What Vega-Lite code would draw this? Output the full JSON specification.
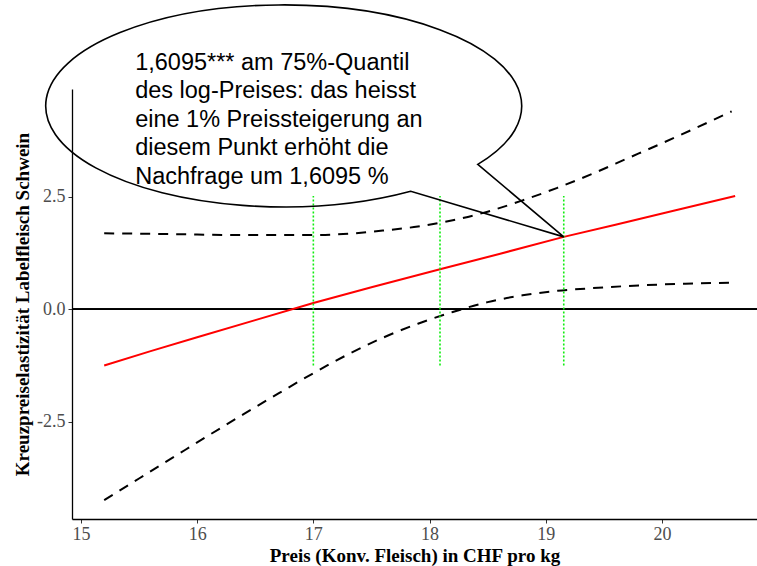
{
  "$schema": "https://vega.github.io/schema/vega-lite/v6.json",
  "width": 685,
  "height": 430,
  "autosize": {"type": "none"},
  "padding": {"left": 72, "top": 89, "right": 0, "bottom": 47},
  "background": "white",
  "config": {
    "view": {"stroke": null},
    "axis": {
      "grid": false,
      "domainColor": "black",
      "domainWidth": 1.3,
      "tickColor": "#333333",
      "tickSize": 4,
      "tickWidth": 1,
      "labelFont": "Liberation Serif",
      "labelFontSize": 18,
      "labelColor": "#4d4d4d",
      "titleFont": "Liberation Serif",
      "titleFontSize": 19,
      "titleFontWeight": "bold",
      "titleColor": "black"
    }
  },
  "datasets": {
    "fit": [
      {"price": 15.2, "elast": -1.25},
      {"price": 15.6, "elast": -0.93},
      {"price": 16.0, "elast": -0.62},
      {"price": 16.5, "elast": -0.24},
      {"price": 17.0, "elast": 0.14},
      {"price": 17.5, "elast": 0.49},
      {"price": 18.09, "elast": 0.89},
      {"price": 18.6, "elast": 1.23},
      {"price": 19.155, "elast": 1.6095},
      {"price": 19.6, "elast": 1.88},
      {"price": 20.1, "elast": 2.19},
      {"price": 20.63, "elast": 2.52}
    ],
    "band": [
      {"bound": "upper", "price": 15.2, "elast": 1.69},
      {"bound": "upper", "price": 15.8, "elast": 1.67},
      {"bound": "upper", "price": 16.4, "elast": 1.65},
      {"bound": "upper", "price": 17.0, "elast": 1.65},
      {"bound": "upper", "price": 17.3, "elast": 1.68},
      {"bound": "upper", "price": 17.6, "elast": 1.75},
      {"bound": "upper", "price": 17.9, "elast": 1.84},
      {"bound": "upper", "price": 18.2, "elast": 1.98},
      {"bound": "upper", "price": 18.5, "elast": 2.17},
      {"bound": "upper", "price": 18.8, "elast": 2.42},
      {"bound": "upper", "price": 19.1, "elast": 2.7},
      {"bound": "upper", "price": 19.4, "elast": 3.01},
      {"bound": "upper", "price": 19.7, "elast": 3.35},
      {"bound": "upper", "price": 20.0, "elast": 3.69},
      {"bound": "upper", "price": 20.3, "elast": 4.04},
      {"bound": "upper", "price": 20.6, "elast": 4.4},
      {"bound": "lower", "price": 15.2, "elast": -4.24},
      {"bound": "lower", "price": 15.5, "elast": -3.76},
      {"bound": "lower", "price": 15.8, "elast": -3.28},
      {"bound": "lower", "price": 16.1, "elast": -2.8},
      {"bound": "lower", "price": 16.4, "elast": -2.33},
      {"bound": "lower", "price": 16.7, "elast": -1.87},
      {"bound": "lower", "price": 17.0, "elast": -1.42},
      {"bound": "lower", "price": 17.3, "elast": -1.0},
      {"bound": "lower", "price": 17.6, "elast": -0.63},
      {"bound": "lower", "price": 17.9, "elast": -0.32},
      {"bound": "lower", "price": 18.2, "elast": -0.06},
      {"bound": "lower", "price": 18.5, "elast": 0.16},
      {"bound": "lower", "price": 18.8, "elast": 0.31},
      {"bound": "lower", "price": 19.1, "elast": 0.41},
      {"bound": "lower", "price": 19.4, "elast": 0.47},
      {"bound": "lower", "price": 19.8, "elast": 0.53},
      {"bound": "lower", "price": 20.2, "elast": 0.57},
      {"bound": "lower", "price": 20.63, "elast": 0.59}
    ],
    "quantiles": [
      {"quantil": "25%", "price": 17.0, "low": -1.25, "high": 2.52},
      {"quantil": "50%", "price": 18.09, "low": -1.25, "high": 2.52},
      {"quantil": "75%", "price": 19.155, "low": -1.25, "high": 2.52}
    ],
    "note": [
      {
        "price": 19.155,
        "elast": 1.6095,
        "label": "1,6095*** am 75%-Quantil\ndes log-Preises: das heisst\neine 1% Preissteigerung an\ndiesem Punkt erhöht die\nNachfrage um 1,6095 %"
      }
    ]
  },
  "encoding": {
    "x": {
      "field": "price",
      "type": "quantitative",
      "scale": {"domain": [14.923, 20.818], "nice": false, "zero": false},
      "axis": {"values": [15, 16, 17, 18, 19, 20], "title": "Preis (Konv. Fleisch) in CHF pro kg", "labelPadding": 2, "titlePadding": 3}
    },
    "y": {
      "field": "elast",
      "type": "quantitative",
      "scale": {"domain": [-4.66, 4.896], "nice": false, "zero": false},
      "axis": {
        "values": [-2.5, 0, 2.5],
        "format": ".1f",
        "labelExpr": "replace(datum.label, '\u2212', '-')",
        "title": "Kreuzpreiselastizität Labelfleisch Schwein",
        "labelPadding": 3,
        "titlePadding": 4
      }
    }
  },
  "layer": [
    {
      "data": {"name": "fit"},
      "mark": {"type": "rule", "color": "black", "strokeWidth": 1.3},
      "encoding": {"x": null, "y": {"datum": 0}}
    },
    {
      "data": {"name": "band"},
      "mark": {"type": "line", "color": "black", "strokeWidth": 2, "strokeDash": [10, 8], "interpolate": "monotone"},
      "encoding": {"detail": {"field": "bound"}}
    },
    {
      "data": {"name": "fit"},
      "mark": {"type": "line", "color": "#ff0000", "strokeWidth": 2}
    },
    {
      "data": {"name": "quantiles"},
      "mark": {"type": "rule", "color": "#11ee11", "strokeWidth": 1.6, "strokeDash": [2, 2]},
      "encoding": {"y": {"field": "low", "type": "quantitative"}, "y2": {"field": "high"}}
    },
    {
      "data": {"name": "note"},
      "mark": {
        "type": "point",
        "filled": false,
        "opacity": 1,
        "stroke": "black",
        "strokeWidth": 1.6,
        "size": 226576,
        "shape": "M 0 0 L -0.6429 -0.1914 A 1 0.4244 0 1 1 -0.3613 -0.3046 Z"
      }
    },
    {
      "data": {"name": "note"},
      "mark": {
        "type": "text",
        "align": "left",
        "baseline": "alphabetic",
        "dx": -428.6,
        "dy": -167,
        "font": "Liberation Sans",
        "fontSize": 23.5,
        "lineHeight": 28.5,
        "lineBreak": "\n",
        "color": "black"
      },
      "encoding": {"text": {"field": "label"}}
    }
  ]
}
